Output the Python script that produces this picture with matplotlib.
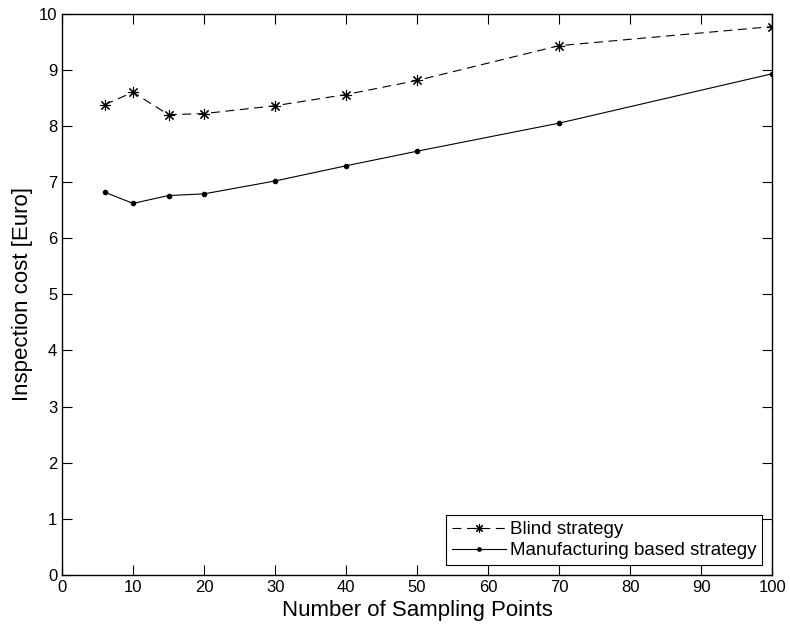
import matplotlib
matplotlib.use('Agg')
import matplotlib.pyplot as plt

# sampling points and cost values
n_points = [6, 10, 15, 20, 30, 40, 50, 70, 100]
blind_cost = [8.38, 8.60, 8.20, 8.22, 8.36, 8.56, 8.81, 9.43, 9.77]
manuf_cost = [6.82, 6.62, 6.76, 6.79, 7.02, 7.29, 7.55, 8.05, 8.93]

plt.rcParams['font.family'] = ['Liberation Sans', 'DejaVu Sans']

fig = plt.figure(figsize=(7.9, 6.3), dpi=100)
ax = fig.add_axes([0.0785, 0.0873, 0.899, 0.891])

# matlab style asterisk marker
ax.plot(n_points, blind_cost, linestyle=(0, (8, 5)), color='black', linewidth=0.8,
        marker=(8, 2, 0), markersize=8, markeredgewidth=0.8,
        label='Blind strategy')
ax.plot(n_points, manuf_cost, linestyle='-', color='black', linewidth=0.8,
        marker='.', markersize=6, label='Manufacturing based strategy')

ax.set_xlim(0, 100)
ax.set_ylim(0, 10)
ax.set_xticks(range(0, 101, 10))
ax.set_yticks(range(0, 11))
ax.tick_params(direction='in', top=True, right=True, labelsize=12, length=7, width=0.8)
for s in ax.spines.values():
    s.set_linewidth(1.0)

ax.set_xlabel('Number of Sampling Points', fontsize=16)
ax.set_ylabel('Inspection cost [Euro]', fontsize=16)

leg = ax.legend(loc='lower right', fontsize=13.5, fancybox=False, framealpha=1,
                edgecolor='black', borderpad=0.3, labelspacing=0.2,
                handlelength=2.9, handletextpad=0.2, borderaxespad=0.55,
                markerscale=0.8)
leg.get_frame().set_linewidth(0.8)

fig.savefig('out.png', dpi=100)
